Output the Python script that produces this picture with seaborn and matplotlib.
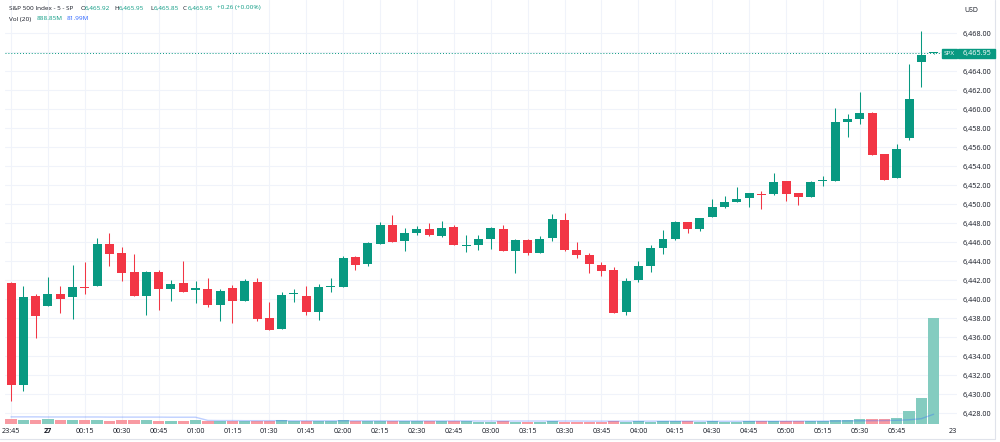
import matplotlib
matplotlib.use("Agg")
import matplotlib.pyplot as plt
from matplotlib.patches import Rectangle
from matplotlib.lines import Line2D
import numpy as np
import pandas as pd
import seaborn as sns

# 5-minute bars, 23:45 -> 06:00
opens = [6441.75, 6430.93, 6440.35, 6439.27, 6440.60, 6440.22, 6441.25, 6441.37, 6445.78, 6444.84,
         6442.84, 6440.39, 6442.84, 6441.09, 6441.72, 6440.98, 6441.09, 6439.44, 6441.16, 6439.80,
         6441.82, 6438.01, 6436.89, 6440.54, 6440.39, 6438.64, 6441.25, 6441.27, 6444.42, 6443.75,
         6445.85, 6447.81, 6446.09, 6446.94, 6447.39, 6446.68, 6447.57, 6445.65, 6445.74, 6446.34,
         6447.39, 6445.08, 6446.27, 6444.90, 6446.48, 6448.33, 6445.15, 6444.69, 6443.64, 6443.05,
         6438.64, 6442.00, 6443.54, 6445.39, 6446.29, 6448.09, 6447.39, 6448.65, 6449.67, 6450.25,
         6450.61, 6451.10, 6451.03, 6452.40, 6451.17, 6450.75, 6452.43, 6452.43, 6458.65, 6458.94,
         6459.57, 6455.26, 6452.74, 6456.94, 6465.00, 6465.92]
highs = [6441.82, 6441.40, 6440.56, 6442.32, 6441.43, 6443.61, 6443.96, 6446.47, 6446.97, 6445.53,
         6444.76, 6442.93, 6443.08, 6442.03, 6444.06, 6441.93, 6442.21, 6441.04, 6441.48, 6442.17,
         6442.24, 6439.72, 6440.74, 6441.06, 6441.40, 6441.58, 6442.21, 6444.58, 6444.55, 6446.00,
         6448.12, 6448.86, 6447.52, 6447.70, 6448.02, 6448.23, 6447.78, 6446.76, 6446.72, 6447.63,
         6447.81, 6446.29, 6446.29, 6446.65, 6448.97, 6449.07, 6446.00, 6444.84, 6443.89, 6443.37,
         6442.21, 6444.06, 6445.68, 6447.28, 6448.23, 6448.12, 6448.60, 6450.51, 6450.82, 6451.80,
         6451.19, 6451.41, 6453.30, 6452.45, 6451.20, 6452.40, 6452.98, 6460.09, 6459.53, 6461.77,
         6459.67, 6455.30, 6456.31, 6464.71, 6468.28, 6465.95]
lows = [6429.25, 6430.31, 6435.91, 6439.25, 6438.60, 6437.91, 6440.56, 6441.35, 6443.53, 6441.93,
        6440.35, 6438.36, 6438.88, 6439.86, 6440.77, 6439.65, 6439.23, 6437.66, 6437.45, 6439.78,
        6437.76, 6436.73, 6436.87, 6439.76, 6438.33, 6437.86, 6440.80, 6441.25, 6443.05, 6443.50,
        6445.84, 6446.00, 6445.08, 6446.79, 6446.70, 6446.52, 6445.71, 6445.00, 6445.18, 6445.29,
        6445.06, 6442.73, 6444.66, 6444.88, 6446.16, 6445.08, 6444.34, 6442.73, 6442.45, 6438.52,
        6438.29, 6441.79, 6442.87, 6444.73, 6446.23, 6446.94, 6447.15, 6448.63, 6449.65, 6450.24,
        6449.67, 6449.52, 6451.01, 6450.30, 6449.91, 6450.73, 6451.93, 6452.41, 6457.08, 6458.49,
        6455.15, 6452.53, 6452.72, 6456.73, 6462.33, 6465.85]
closes = [6430.97, 6440.28, 6438.22, 6440.60, 6440.04, 6441.30, 6441.20, 6445.81, 6444.80, 6442.74,
          6440.39, 6442.91, 6441.06, 6441.64, 6440.80, 6441.19, 6439.38, 6440.88, 6439.83, 6441.96,
          6437.94, 6436.75, 6440.46, 6440.56, 6438.64, 6441.27, 6441.30, 6444.31, 6443.57, 6445.89,
          6447.81, 6446.02, 6447.00, 6447.36, 6446.72, 6447.49, 6445.74, 6445.69, 6446.34, 6447.53,
          6445.08, 6446.27, 6444.90, 6446.37, 6448.44, 6445.18, 6444.66, 6443.68, 6442.95, 6438.54,
          6441.96, 6443.50, 6445.36, 6446.31, 6448.09, 6447.36, 6448.57, 6449.67, 6450.19, 6450.54,
          6451.17, 6450.99, 6452.32, 6451.03, 6450.75, 6452.36, 6452.46, 6458.70, 6459.00, 6459.64,
          6455.19, 6452.60, 6455.76, 6461.11, 6465.69, 6465.95]
# volume in millions
volumes = [42, 36, 31, 42, 31, 31, 31, 34, 28, 31,
           31, 34, 28, 23, 28, 34, 28, 28, 23, 28,
           28, 28, 30, 25, 26, 25, 28, 30, 25, 26,
           26, 25, 25, 23, 26, 24, 26, 22, 20, 20,
           25, 20, 20, 20, 25, 20, 20, 20, 20, 25,
           20, 25, 20, 25, 25, 25, 20, 25, 20, 20,
           25, 25, 25, 25, 28, 28, 28, 34, 34, 42,
           42, 42, 50, 109, 216, 888.85]
vol_ma = [60, 60, 60, 59, 59, 59, 59, 59, 58, 58,
          58, 58, 58, 57, 57, 57, 30, 29, 29, 28,
          28, 28, 28, 27, 27, 27, 27, 27, 27, 27,
          27, 26, 26, 26, 26, 26, 26, 26, 25, 25,
          25, 25, 25, 25, 25, 25, 25, 24, 24, 24,
          24, 24, 24, 24, 24, 24, 24, 23, 23, 23,
          23, 23, 23, 23, 24, 24, 24, 25, 26, 27,
          28, 29, 31, 35, 45, 81.99]

time_tick_pos = [0, 3, 6, 9, 12, 15, 18, 21, 24, 27, 30, 33, 36, 39, 42, 45, 48, 51, 54, 57,
                 60, 63, 66, 69, 72, 76.6]
time_tick_labels = ['23:45', '27', '00:15', '00:30', '00:45', '01:00', '01:15', '01:30', '01:45',
                    '02:00', '02:15', '02:30', '02:45', '03:00', '03:15', '03:30', '03:45', '04:00',
                    '04:15', '04:30', '04:45', '05:00', '05:15', '05:30', '05:45', '23']
price_ticks = [6428, 6430, 6432, 6434, 6436, 6438, 6440, 6442, 6444, 6446, 6448, 6450,
               6452, 6454, 6456, 6458, 6460, 6462, 6464, 6466, 6468]
last_price = 6465.95

UP = '#089981'
DOWN = '#f23645'
VUP = '#84ccc0'
VDOWN = '#f89aa2'
TXT = '#131722'
FONT = ['Open Sans', 'DejaVu Sans']

sns.set_theme(style="white")
plt.rcParams['font.family'] = FONT

W, H = 1000, 442
fig = plt.figure(figsize=(W / 100, H / 100), dpi=100)
fig.patch.set_facecolor('white')


def fx(x):
    return x / W


def fy(y):
    return 1 - y / H


rect = [fx(5), fy(424), (957 - 5) / W, 424 / H]
ax = fig.add_axes(rect)
axv = fig.add_axes(rect)
axv.patch.set_alpha(0)

idx = np.arange(len(opens))
o = np.array(opens)
c = np.array(closes)
up = c >= o
colors = np.where(up, UP, DOWN)
xmin, xmax = -0.49, 76.9

# candles
ax.vlines(idx, lows, highs, colors=colors, lw=0.75, zorder=2)
body_h = np.maximum(np.abs(c - o), 0.1)
ax.bar(idx, body_h, bottom=np.minimum(o, c), width=0.73, color=colors, linewidth=0, zorder=3)

ax.set_xlim(xmin, xmax)
ax.set_ylim(6426.87, 6471.49)
for s in ax.spines.values():
    s.set_visible(False)

# grid
for p in price_ticks:
    ax.axhline(p, color='#f0f3fa', lw=0.8, zorder=0)
for t in time_tick_pos[:-1]:
    ax.axvline(t, color='#f0f3fa', lw=0.8, zorder=0)

ax.yaxis.tick_right()
ax.set_yticks(price_ticks)
ax.set_yticklabels(['' if p == 6466 else f'{p:,.2f}' for p in price_ticks])
ax.tick_params(axis='y', length=0, pad=3.8, labelsize=5.2, labelcolor=TXT)
ax.set_xticks(time_tick_pos)
ax.set_xticklabels(time_tick_labels)
ax.tick_params(axis='x', length=0, pad=3.2, labelsize=5.2, labelcolor=TXT)
for lbl in ax.get_xticklabels():
    if lbl.get_text() == '27':
        lbl.set_fontweight('bold')

# last price line
ax.axhline(last_price, xmin=0, xmax=(941 - 5) / 952, color=UP, lw=0.7, ls=(0, (1, 2)), zorder=1)

# volume
vol_df = pd.DataFrame({'idx': idx, 'vol': volumes, 'dir': np.where(up, 'up', 'down')})
sns.barplot(data=vol_df, x='idx', y='vol', hue='dir', palette={'up': VUP, 'down': VDOWN},
            native_scale=True, dodge=False, width=0.92, saturation=1, errorbar=None,
            legend=False, linewidth=0, ax=axv)
sns.lineplot(x=idx, y=vol_ma, color='#2962ff', alpha=0.3, lw=1, ax=axv)
axv.set_xlim(xmin, xmax)
axv.set_ylim(0, 888.85 * 424 / 105.7)
axv.axis('off')

# header legend
HS = 4.6
hdr1 = [('S&P 500 Index - 5 - SP', 9, TXT), ('O', 81, TXT), ('6,465.92', 85, UP),
        ('H', 114, TXT), ('6,465.95', 118.5, UP), ('L', 150, TXT), ('6,465.85', 153.5, UP),
        ('C', 183, TXT), ('6,465.95', 187.5, UP), ('+0.26 (+0.00%)', 217, UP)]
for txt, x, col in hdr1:
    fig.text(fx(x), fy(8), txt, color=col, fontsize=HS, va='center', ha='left')
hdr2 = [('Vol (20)', 9, TXT), ('888.85M', 37, UP), ('81.99M', 67, '#2962ff')]
for txt, x, col in hdr2:
    fig.text(fx(x), fy(19), txt, color=col, fontsize=HS, va='center', ha='left')
fig.text(fx(964), fy(10), 'USD', color=TXT, fontsize=5.0, va='center', ha='left')

# last price labels
fig.patches.append(Rectangle((fx(941.5), fy(58)), (957 - 941.5) / W, 9 / H,
                             transform=fig.transFigure, color=UP, zorder=5))
fig.patches.append(Rectangle((fx(958), fy(58)), (995 - 958) / W, 9 / H,
                             transform=fig.transFigure, color=UP, zorder=5))
fig.text(fx(949.2), fy(53.5), 'SPX', color='white', fontsize=4.6, va='center', ha='center', zorder=6)
fig.text(fx(976.5), fy(53.5), f'{last_price:,.2f}', color='white', fontsize=5.2,
         va='center', ha='center', zorder=6)

# frame lines
fig.add_artist(Line2D([0, fx(995)], [fy(439), fy(439)], color='#e0e3eb', lw=0.8))
fig.add_artist(Line2D([fx(995), fx(995)], [fy(439), 1], color='#e0e3eb', lw=0.8))

fig.savefig('out.png', dpi=100, facecolor='white')
